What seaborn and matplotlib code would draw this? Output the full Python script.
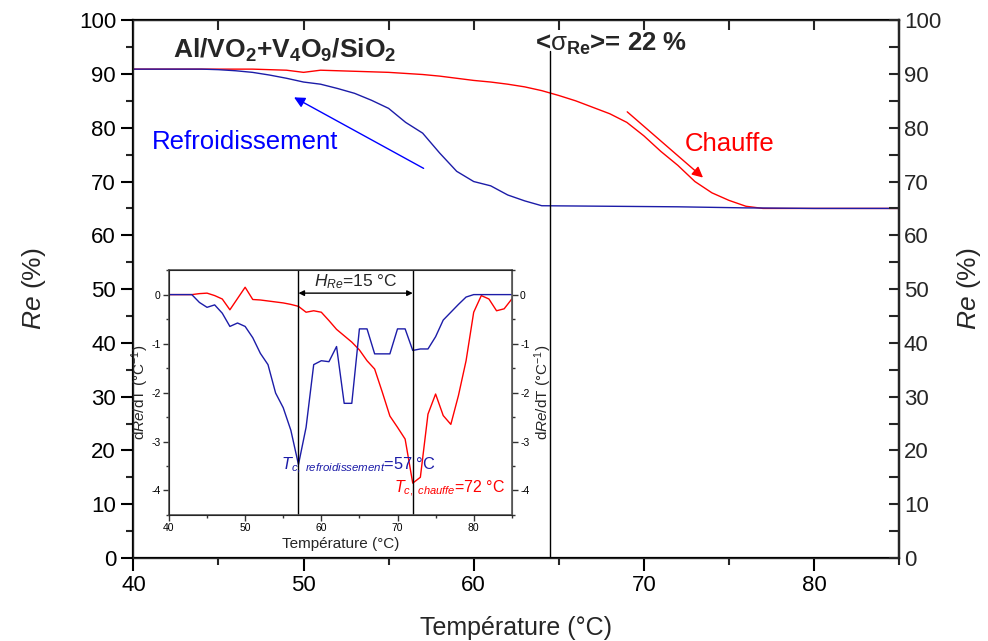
import numpy as np
import pandas as pd
import matplotlib
matplotlib.use('Agg')
import matplotlib.pyplot as plt
import seaborn as sns
from matplotlib.ticker import MultipleLocator

# main curves: reflectance Re (%) vs temperature
temp_heat = [40, 42, 44, 46, 47, 48, 49, 50, 51, 52, 53, 54, 55, 56, 57, 58, 59, 60, 61, 62,
             63, 64, 65, 66, 67, 68, 69, 70, 71, 72, 73, 74, 75, 76, 77, 80, 85]
re_heat = [90.9, 90.9, 90.9, 90.9, 90.9, 90.8, 90.7, 90.3, 90.7, 90.6, 90.5, 90.4, 90.3, 90.1,
           89.9, 89.6, 89.2, 88.8, 88.5, 88.1, 87.6, 86.9, 86.0, 85.0, 83.8, 82.6, 81.0, 78.5,
           75.6, 73.0, 70.0, 67.9, 66.5, 65.4, 65.0, 65.0, 65.0]

temp_cool = [40, 42, 44, 45, 46, 47, 48, 49, 50, 51, 52, 53, 54, 55, 56, 57, 58, 59, 60, 61,
             62, 63, 64, 68, 72, 76, 80, 85]
re_cool = [90.9, 90.9, 90.9, 90.8, 90.6, 90.3, 89.8, 89.2, 88.5, 88.1, 87.3, 86.4, 85.1, 83.6,
           81.0, 79.0, 75.3, 71.9, 70.0, 69.2, 67.5, 66.4, 65.5, 65.4, 65.3, 65.1, 65.0, 65.0]

# inset: derivative dRe/dT at 1 degC steps
temp_deriv = list(range(40, 86))
dre_cool = [0, 0, 0, 0, -0.16, -0.26, -0.21, -0.38, -0.65, -0.58, -0.65, -0.88, -1.20, -1.43,
            -2.01, -2.31, -2.77, -3.47, -2.71, -1.43, -1.35, -1.37, -1.06, -2.22, -2.22, -0.70,
            -0.70, -1.21, -1.21, -1.21, -0.70, -0.70, -1.14, -1.11, -1.11, -0.86, -0.52, -0.36,
            -0.20, -0.05, 0, 0, 0, 0, 0, 0]
dre_heat = [0, 0, 0, 0, 0.02, 0.03, -0.02, -0.09, -0.31, -0.08, 0.15, -0.10, -0.11, -0.13,
            -0.15, -0.17, -0.20, -0.24, -0.36, -0.33, -0.36, -0.53, -0.71, -0.84, -0.97, -1.13,
            -1.35, -1.52, -1.99, -2.48, -2.71, -2.95, -3.85, -3.73, -2.44, -2.03, -2.47, -2.65,
            -2.06, -1.35, -0.36, -0.02, -0.09, -0.33, -0.29, -0.09]

tc_cool = 57
tc_heat = 72
t_mid = 64.5

red = '#ff0000'
navy = '#1c1ca8'
blue = '#0000ff'

sns.set_style('ticks')
plt.rcParams['font.family'] = ['Liberation Sans', 'DejaVu Sans']
plt.rcParams['mathtext.fontset'] = 'custom'
plt.rcParams['mathtext.rm'] = 'Liberation Sans'
plt.rcParams['mathtext.it'] = 'Liberation Sans:italic'
plt.rcParams['mathtext.bf'] = 'Liberation Sans:bold'
plt.rcParams['axes.unicode_minus'] = False

fig = plt.figure(figsize=(9.88, 6.41), dpi=100)
ax = fig.add_axes([0.135, 0.1295, 0.775, 0.839])

sns.lineplot(x=temp_heat, y=re_heat, color=red, lw=1, ax=ax)
sns.lineplot(x=temp_cool, y=re_cool, color=navy, lw=1, ax=ax)
ax.plot([t_mid, t_mid], [0, 94.3], color='black', lw=1)

ax.set_xlim(40, 85)
ax.set_ylim(0, 100)
ax.xaxis.set_major_locator(MultipleLocator(10))
ax.xaxis.set_minor_locator(MultipleLocator(5))
ax.yaxis.set_major_locator(MultipleLocator(10))
ax.yaxis.set_minor_locator(MultipleLocator(5))
ax.tick_params(which='major', direction='out', length=9, width=1.5, labelsize=16, colors='black')
ax.tick_params(which='minor', direction='out', length=5, width=1.5)
for s in ax.spines.values():
    s.set_linewidth(1.6)
    s.set_color('black')
ax.set_xlabel('Température (°C)', fontsize=18, labelpad=14)
ax.set_ylabel(r'$Re$ (%)', fontsize=19, labelpad=22)

# right axis, inward ticks
ax2 = ax.twinx()
ax2.set_ylim(0, 100)
ax2.yaxis.set_major_locator(MultipleLocator(10))
ax2.yaxis.set_minor_locator(MultipleLocator(5))
ax2.tick_params(which='both', direction='in', length=7, width=1.5, labelsize=16)
ax2.set_ylabel(r'$Re$ (%)', fontsize=19, labelpad=10)
ax2.spines['right'].set_linewidth(1.6)

# top axis, inward ticks
axt = ax.secondary_xaxis('top')
axt.xaxis.set_major_locator(MultipleLocator(5))
axt.tick_params(direction='in', length=7, width=1.5, labeltop=False)

ax.text(42.3, 94.4, r'Al/VO$_\mathbf{2}$+V$_\mathbf{4}$O$_\mathbf{9}$/SiO$_\mathbf{2}$',
        fontsize=19, fontweight='bold', va='center')
ax.text(63.6, 95.6, r'<$\mathrm{\sigma}_\mathbf{Re}$>= 22 %', fontsize=18.5, fontweight='bold',
        va='center')
ax.text(41.1, 77.3, 'Refroidissement', color=blue, fontsize=18.5, va='center')
ax.text(72.4, 77.0, 'Chauffe', color=red, fontsize=18.5, va='center')

ax.annotate('', xy=(49.3, 85.9), xytext=(57.2, 72.2),
            arrowprops=dict(arrowstyle='-|>', color=blue, lw=1, mutation_scale=16))
ax.annotate('', xy=(73.6, 70.4), xytext=(68.9, 83.3),
            arrowprops=dict(arrowstyle='-|>', color=red, lw=1, mutation_scale=16))

# inset with derivatives
ins = fig.add_axes([0.171, 0.1966, 0.347, 0.382])
sns.lineplot(x=temp_deriv, y=dre_heat, color=red, lw=1, ax=ins)
sns.lineplot(x=temp_deriv, y=dre_cool, color=navy, lw=1, ax=ins)
ins.axvline(tc_cool, color='black', lw=1)
ins.axvline(tc_heat, color='black', lw=1)
ins.annotate('', xy=(tc_heat, 0.03), xytext=(tc_cool, 0.03),
             arrowprops=dict(arrowstyle='<|-|>', color='black', lw=1, mutation_scale=8,
                             shrinkA=0, shrinkB=0))
ins.text(64.5, 0.27, r'$H_{Re}$=15 °C', fontsize=12.5, ha='center', va='center')
ins.text(54.7, -3.5, r'$T_{c,\ refroidissement}$=57 °C', color=navy, fontsize=11.8, va='center')
ins.text(69.6, -3.96, r'$T_{c,\ chauffe}$=72 °C', color=red, fontsize=11.5, va='center')

ins.set_xlim(40, 85)
ins.set_ylim(-4.5, 0.5)
ins.xaxis.set_major_locator(MultipleLocator(10))
ins.xaxis.set_minor_locator(MultipleLocator(5))
ins.yaxis.set_major_locator(MultipleLocator(1))
ins.yaxis.set_minor_locator(MultipleLocator(0.5))
ins.tick_params(which='major', direction='out', length=4, width=1, labelsize=7.5,
                colors='#333333', labelcolor='black', pad=2)
ins.tick_params(which='minor', direction='out', length=2.5, width=1, colors='#333333')
ins.tick_params(axis='y', which='both', right=True)
for s in ins.spines.values():
    s.set_color('#555555')
    s.set_linewidth(1.2)
ins.set_xlabel('Température (°C)', fontsize=11, labelpad=3)
ins.set_ylabel(r'd$Re$/dT (°C$^{-1}$)', fontsize=11, labelpad=0)

ins2 = ins.twinx()
ins2.set_ylim(-4.5, 0.5)
ins2.yaxis.set_major_locator(MultipleLocator(1))
ins2.yaxis.set_minor_locator(MultipleLocator(0.5))
ins2.tick_params(which='major', direction='out', length=4, width=1, labelsize=7.5, colors='#333333',
                 labelcolor='black', pad=2)
ins2.tick_params(which='minor', direction='out', length=2.5, width=1, colors='#333333')
ins2.spines['right'].set_color('#555555')
ins2.set_ylabel(r'd$Re$/dT (°C$^{-1}$)', fontsize=11, labelpad=2)

fig.savefig('out.png', dpi=100)
